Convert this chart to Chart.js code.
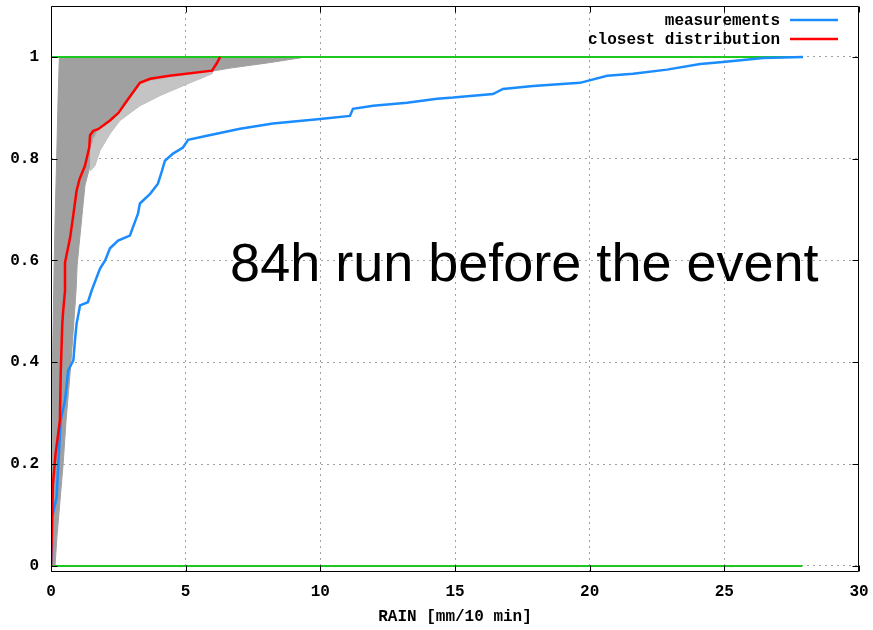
<!DOCTYPE html>
<html><head><meta charset="utf-8">
<script src="https://cdn.jsdelivr.net/npm/chart.js@4"></script>
<style>html,body{margin:0;padding:0;background:#fff;}</style>
</head><body>
<canvas id="c" width="873" height="630"></canvas>
<script>
// ---- axes ----
const xTicks = [0, 5, 10, 15, 20, 25, 30];
const yTicks = [0, 0.2, 0.4, 0.6, 0.8, 1];
const yTickLabels = ['0', '0.2', '0.4', '0.6', '0.8', '1'];
const xTitle = 'RAIN [mm/10 min]';
const annotationText = '84h run before the event';
const legendOrder = ['measurements', 'closest distribution'];

// ---- measurements (empirical CDF) ----
const measX = [0, 0.04, 0.04, 0.21, 0.27, 0.36, 0.52, 0.64, 0.83, 0.89, 0.95, 1.08, 1.37, 1.51, 1.82, 2.01, 2.19, 2.49, 2.93, 3.04, 3.23, 3.30, 3.68, 3.97, 4.12, 4.23, 4.53, 4.90, 5.09, 5.79, 7.02, 8.24, 9.99, 11.10, 11.21, 11.96, 13.22, 14.33, 14.93, 16.41, 16.78, 17.90, 19.64, 20.65, 21.61, 22.87, 24.10, 24.95, 25.70, 26.44, 27.92];
const measY = [0, 0.037, 0.096, 0.135, 0.2, 0.286, 0.325, 0.384, 0.404, 0.443, 0.476, 0.512, 0.518, 0.541, 0.584, 0.6, 0.624, 0.639, 0.649, 0.665, 0.692, 0.712, 0.731, 0.751, 0.776, 0.796, 0.81, 0.822, 0.837, 0.845, 0.859, 0.869, 0.878, 0.884, 0.898, 0.904, 0.910, 0.918, 0.92, 0.927, 0.937, 0.943, 0.949, 0.963, 0.967, 0.975, 0.986, 0.99, 0.994, 0.998, 1.0];

// ---- closest distribution ----
const closestX = [0, 0.07, 0.17, 0.33, 0.36, 0.42, 0.45, 0.52, 0.52, 0.71, 0.83, 0.95, 1.06, 1.26, 1.42, 1.45, 1.57, 1.75, 2.19, 2.50, 2.82, 3.30, 3.68, 4.40, 5.98, 6.16, 6.28];
const closestY = [0, 0.159, 0.22, 0.286, 0.378, 0.476, 0.50, 0.54, 0.596, 0.645, 0.69, 0.737, 0.76, 0.786, 0.822, 0.846, 0.855, 0.858, 0.875, 0.89, 0.914, 0.949, 0.957, 0.963, 0.973, 0.988, 1.0];

// ---- ensemble members: dense core outline (left edge up, right edge down) ----
const coreX = [0.02, 0.04, 0.06, 0.12, 0.15, 0.21, 0.26, 0.31, 9.43, 9.25, 8.02, 6.65, 6.09, 5.53, 4.42, 3.68, 3.30, 2.82, 2.49, 2.19, 1.75, 1.56, 1.49, 1.45, 1.26, 1.15, 1.04, 0.97, 0.93, 0.82, 0.71, 0.56, 0.45, 0.22, 0.15];
const coreY = [0, 0.21, 0.42, 0.60, 0.68, 0.80, 0.914, 1.0, 1.0, 0.998, 0.988, 0.978, 0.973, 0.965, 0.959, 0.953, 0.945, 0.908, 0.884, 0.869, 0.851, 0.841, 0.82, 0.786, 0.747, 0.688, 0.629, 0.59, 0.541, 0.457, 0.378, 0.286, 0.2, 0.057, 0];
// ---- ensemble members: sparse spread below the knee ----
const spreadX = [1.45, 1.75, 2.19, 2.82, 3.30, 4.42, 5.98, 5.98, 5.16, 4.05, 3.30, 2.56, 2.19, 1.82, 1.63, 1.45];
const spreadY = [0.82, 0.859, 0.875, 0.914, 0.949, 0.961, 0.973, 0.967, 0.949, 0.924, 0.904, 0.875, 0.849, 0.816, 0.786, 0.776];

// ---- bounds ----
const boundX = [0, 27.9];
const lowerBoundY = [0, 0];
const upperBoundY = [1, 1];

const pts = (xs, ys) => xs.map((x, i) => ({x: x, y: ys[i]}));

const GRID = '#a0a0a0';
Chart.defaults.font.family = "'Liberation Mono', 'DejaVu Sans Mono', monospace";

const framePlugin = {
  id: 'frame',
  afterDatasetsDraw(chart) {
    const {ctx, chartArea: a, scales: {x, y}} = chart;
    ctx.save();
    ctx.strokeStyle = '#000';
    ctx.lineWidth = 1;
    ctx.setLineDash([]);
    ctx.beginPath();
    const L = Math.round(a.left) + 0.5, R = Math.round(a.right) - 0.5;
    const T = Math.round(a.top) + 0.5, B = Math.round(a.bottom) - 0.5;
    ctx.rect(L, T, R - L, B - T);
    const tl = 6;
    xTicks.forEach(v => {
      const px = Math.round(x.getPixelForValue(v)) + 0.5;
      ctx.moveTo(px, B); ctx.lineTo(px, B - tl);
      ctx.moveTo(px, T); ctx.lineTo(px, T + tl);
    });
    yTicks.forEach(v => {
      const py = Math.round(y.getPixelForValue(v)) + 0.5;
      ctx.moveTo(L, py); ctx.lineTo(L + tl, py);
      ctx.moveTo(R, py); ctx.lineTo(R - tl, py);
    });
    ctx.stroke();
    ctx.restore();
  },
  afterDraw(chart) {
    const {ctx, chartArea: a, scales: {x, y}} = chart;
    ctx.save();
    // legend (text right-aligned, line sample to the right)
    ctx.font = "bold 16px 'Liberation Mono', 'DejaVu Sans Mono', monospace";
    ctx.textAlign = 'right';
    ctx.textBaseline = 'middle';
    legendOrder.forEach((name, row) => {
      const ds = chart.data.datasets.find(d => d.label === name);
      if (!ds) return;
      const yy = a.top + 14 + row * 19;
      ctx.fillStyle = '#000';
      ctx.fillText(ds.label, a.right - 79, yy + 1);
      ctx.strokeStyle = ds.borderColor;
      ctx.lineWidth = ds.borderWidth;
      ctx.beginPath();
      ctx.moveTo(a.right - 69, yy);
      ctx.lineTo(a.right - 21, yy);
      ctx.stroke();
    });
    // annotation text
    ctx.font = "54px 'Liberation Sans', Arial, sans-serif";
    ctx.textAlign = 'left';
    ctx.textBaseline = 'alphabetic';
    ctx.fillStyle = '#000';
    ctx.fillText(annotationText, x.getPixelForValue(6.65), y.getPixelForValue(0.56));
    ctx.restore();
  }
};

new Chart(document.getElementById('c'), {
  type: 'line',
  data: {
    datasets: [
      {label: 'closest distribution', data: pts(closestX, closestY), borderColor: '#ff0000', borderWidth: 2.5, pointRadius: 0, fill: false, tension: 0},
      {label: 'measurements', data: pts(measX, measY), borderColor: '#1a8cff', borderWidth: 2.5, pointRadius: 0, fill: false, tension: 0},
      {label: 'upper', data: pts(boundX, upperBoundY), borderColor: '#1ec81e', borderWidth: 2, pointRadius: 0, fill: false},
      {label: 'lower', data: pts(boundX, lowerBoundY), borderColor: '#1ec81e', borderWidth: 2, pointRadius: 0, fill: false},
      {label: 'ensemble spread', data: pts(spreadX, spreadY), borderColor: '#bdbdbd', borderWidth: 1, backgroundColor: '#c4c4c4', pointRadius: 0, fill: 'shape', tension: 0},
      {label: 'ensemble', data: pts(coreX, coreY), borderColor: '#a0a0a0', borderWidth: 1, backgroundColor: '#a0a0a0', pointRadius: 0, fill: 'shape', tension: 0}
    ]
  },
  options: {
    responsive: false,
    animation: false,
    devicePixelRatio: 1,
    layout: {autoPadding: false, padding: {top: 6, right: 14, left: 0, bottom: 0}},
    plugins: {legend: {display: false}, tooltip: {enabled: false}},
    scales: {
      x: {
        type: 'linear', min: 0, max: 30,
        afterBuildTicks: s => { s.ticks = xTicks.map(v => ({value: v})); },
        afterFit: s => { s.height = 58; s.paddingLeft = 0; s.paddingRight = 0; },
        grid: {color: c => (c.tick && (c.tick.value === 0 || c.tick.value === 30)) ? 'rgba(0,0,0,0)' : GRID, lineWidth: 1, drawTicks: false},
        border: {display: false, dash: [2, 4]},
        ticks: {padding: 10, color: '#000', font: {size: 16, weight: 'bold'}, maxRotation: 0, callback: v => String(v)},
        title: {display: true, text: xTitle, color: '#000', font: {size: 16, weight: 'bold'}, padding: {top: 0, bottom: 3}}
      },
      y: {
        type: 'linear', min: -0.012, max: 1.1,
        afterBuildTicks: s => { s.ticks = yTicks.map(v => ({value: v})); },
        afterFit: s => { s.width = 51; s.paddingTop = 0; s.paddingBottom = 0; },
        grid: {color: GRID, lineWidth: 1, drawTicks: false},
        border: {display: false, dash: [2, 4]},
        ticks: {padding: 12, color: '#000', font: {size: 16, weight: 'bold'}, callback: (v, i) => yTickLabels[i]}
      }
    }
  },
  plugins: [framePlugin]
});
</script>
</body></html>
